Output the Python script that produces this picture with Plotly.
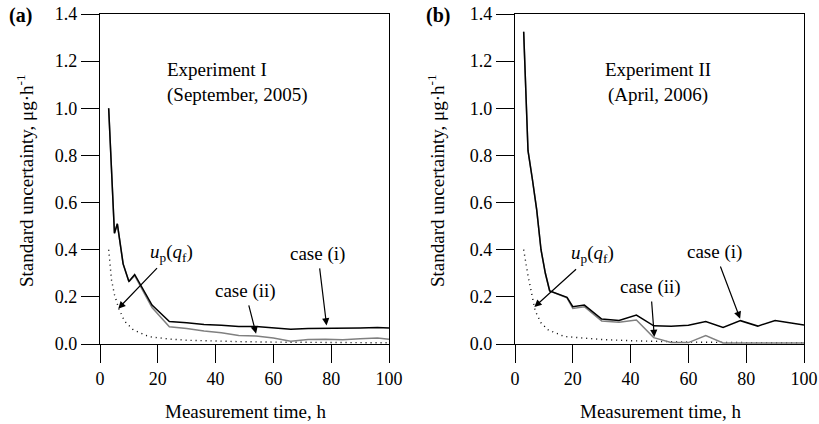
import plotly.graph_objects as go

# ---------------- data ----------------
# Panel (a) Experiment I
a_case1_t = [3, 5, 6, 8, 10, 12, 18, 24, 30, 36, 42, 48, 54, 60, 66, 72, 78, 84, 90, 96, 100]
a_case1_u = [1.0, 0.47, 0.51, 0.34, 0.265, 0.295, 0.165, 0.095, 0.09, 0.083, 0.08, 0.074,
             0.074, 0.068, 0.063, 0.066, 0.066, 0.067, 0.068, 0.07, 0.068]
a_case2_t = [3, 5, 6, 8, 10, 12, 18, 24, 30, 36, 42, 48, 54, 60, 66, 72, 78, 84, 90, 96, 100]
a_case2_u = [1.0, 0.47, 0.51, 0.34, 0.265, 0.29, 0.155, 0.073, 0.066, 0.055, 0.048, 0.036,
             0.034, 0.025, 0.012, 0.019, 0.02, 0.018, 0.022, 0.025, 0.02]
a_up_t = [3, 4, 5, 6.5, 8.5, 11.5, 17, 24, 30, 36, 48, 60, 80, 100]
a_up_u = [0.40, 0.27, 0.21, 0.15, 0.097, 0.06, 0.031, 0.021, 0.016, 0.013, 0.01, 0.008, 0.006, 0.005]

# Panel (b) Experiment II
b_case1_t = [3, 4.5, 6, 7.5, 9, 10.5, 12, 18, 20, 24, 30, 36, 42, 48, 54, 60, 66, 72, 78, 84, 90, 100]
b_case1_u = [1.325, 0.82, 0.70, 0.57, 0.40, 0.30, 0.225, 0.198, 0.158, 0.165, 0.106, 0.100,
             0.123, 0.077, 0.075, 0.080, 0.095, 0.070, 0.099, 0.076, 0.100, 0.081]
b_case2_t = [3, 4.5, 6, 7.5, 9, 10.5, 12, 18, 20, 24, 30, 36, 42, 48, 54, 60, 66, 72, 78, 84, 90, 100]
b_case2_u = [1.325, 0.82, 0.70, 0.57, 0.40, 0.30, 0.225, 0.196, 0.151, 0.158, 0.098, 0.092,
             0.102, 0.027, 0.006, 0.006, 0.036, 0.004, 0.004, 0.004, 0.004, 0.004]
b_up_t = [3, 4.5, 6, 7, 9, 11.5, 17, 23, 30, 40, 50, 60, 80, 100]
b_up_u = [0.40, 0.29, 0.20, 0.14, 0.09, 0.06, 0.032, 0.025, 0.019, 0.014, 0.01, 0.008, 0.006, 0.005]

x_ticks = [0, 20, 40, 60, 80, 100]
y_ticks = [0.0, 0.2, 0.4, 0.6, 0.8, 1.0, 1.2, 1.4]
y_ticklabels = ["0.0", "0.2", "0.4", "0.6", "0.8", "1.0", "1.2", "1.4"]

# ---------------- figure ----------------
W, H = 819, 424
FONT = "Liberation Serif, Times New Roman, serif"
FS = 19
TFS = 18


def px(x):
    return x / W


def py(y):
    return 1 - y / H


fig = go.Figure()

panels = [
    ("x", "y", a_case1_t, a_case1_u, a_case2_t, a_case2_u, a_up_t, a_up_u),
    ("x2", "y2", b_case1_t, b_case1_u, b_case2_t, b_case2_u, b_up_t, b_up_u),
]
for xa, ya, c1t, c1u, c2t, c2u, upt, upu in panels:
    fig.add_trace(go.Scatter(x=upt, y=upu, mode="lines", xaxis=xa, yaxis=ya,
                             line=dict(color="black", width=1.4, dash="1px,4px"), showlegend=False))
    fig.add_trace(go.Scatter(x=c2t, y=c2u, mode="lines", xaxis=xa, yaxis=ya,
                             line=dict(color="#808080", width=1.5), showlegend=False))
    fig.add_trace(go.Scatter(x=c1t, y=c1u, mode="lines", xaxis=xa, yaxis=ya,
                             line=dict(color="black", width=1.5), showlegend=False))

axis_common = dict(showgrid=False, zeroline=False, showline=True, mirror=True,
                   linecolor="black", linewidth=1.2, ticks="outside", ticklen=18,
                   tickwidth=1.2, tickcolor="black", automargin=False,
                   ticklabeloverflow="allow",
                   tickfont=dict(family=FONT, size=TFS, color="black"))

ydom = [py(344), py(14)]
fig.update_layout(
    xaxis=dict(domain=[px(100), px(389)], range=[0, 100], tickvals=x_ticks, anchor="y", **axis_common),
    yaxis=dict(domain=ydom, range=[0, 1.4], tickvals=y_ticks, ticktext=y_ticklabels, anchor="x", **axis_common),
    xaxis2=dict(domain=[px(515), px(804)], range=[0, 100], tickvals=x_ticks, anchor="y2", **axis_common),
    yaxis2=dict(domain=ydom, range=[0, 1.4], tickvals=y_ticks, ticktext=y_ticklabels, anchor="x2", **axis_common),
    width=W, height=H,
    margin=dict(l=0, r=0, t=0, b=0),
    paper_bgcolor="white", plot_bgcolor="white",
    font=dict(family=FONT, size=FS, color="black"),
)

ann = []
# axis titles
for cx in (25, 436):
    ann.append(dict(text="Standard uncertainty, μg·h<sup>-1</sup>", x=px(cx), y=py(181),
                    xref="paper", yref="paper", textangle=-90, showarrow=False,
                    xanchor="center", yanchor="middle", font=dict(size=FS)))
for cx in (245, 660):
    ann.append(dict(text="Measurement time, h", x=px(cx), y=py(411), xref="paper", yref="paper",
                    showarrow=False, xanchor="center", yanchor="middle", font=dict(size=FS)))
# panel labels
ann.append(dict(text="<b>(a)</b>", x=px(7), y=py(16), xref="paper", yref="paper", showarrow=False,
                xanchor="left", yanchor="middle", font=dict(size=20)))
ann.append(dict(text="<b>(b)</b>", x=px(424), y=py(16), xref="paper", yref="paper", showarrow=False,
                xanchor="left", yanchor="middle", font=dict(size=20)))

# experiment labels
ann.append(dict(text="Experiment I<br>(September, 2005)", x=22.5, y=1.11, xref="x", yref="y",
                showarrow=False, xanchor="left", yanchor="middle", align="left", font=dict(size=FS)))
ann.append(dict(text="Experiment II<br>(April, 2006)", x=49.5, y=1.11, xref="x2", yref="y2",
                showarrow=False, xanchor="center", yanchor="middle", align="center", font=dict(size=FS)))

up_txt = "<i>u</i><sub>p</sub>(<i>q</i><sub>f</sub>)"
# (axis, text, text x, text y, arrow tip x, arrow tip y)
labels = [
    ("x", "y", up_txt, 24.7, 0.385, 6.3, 0.15),
    ("x", "y", "case (ii)", 50.2, 0.225, 54.0, 0.044),
    ("x", "y", "case (i)", 75.4, 0.382, 78.4, 0.079),
    ("x2", "y2", up_txt, 26.8, 0.38, 6.7, 0.157),
    ("x2", "y2", "case (ii)", 46.9, 0.242, 48.2, 0.03),
    ("x2", "y2", "case (i)", 69.2, 0.39, 77.9, 0.107),
]
for xr, yr, txt, tx, ty, hx, hy in labels:
    ann.append(dict(text=txt, x=hx, y=hy, ax=tx, ay=ty, xref=xr, yref=yr, axref=xr, ayref=yr,
                    showarrow=True, arrowhead=2, arrowsize=1.2, arrowwidth=1.2, arrowcolor="black",
                    startstandoff=2, font=dict(size=FS)))

fig.update_layout(annotations=ann)
fig.write_html("out.html", config={"displayModeBar": False},
               post_script="document.body.style.margin='0';document.body.style.padding='0';")
